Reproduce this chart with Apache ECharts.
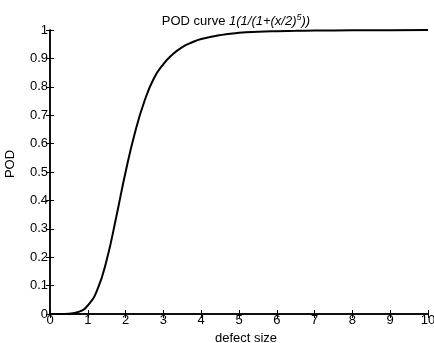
<!DOCTYPE html>
<html><head><meta charset="utf-8">
<script src="https://cdn.jsdelivr.net/npm/echarts@6/dist/echarts.min.js"></script>
<style>html,body{margin:0;padding:0;background:#fff}#c{width:434px;height:343px}</style>
</head><body><div id="c"></div>
<script>
const defectSize = [0,0.25,0.5,0.75,1,1.25,1.5,1.75,2,2.25,2.5,2.75,3,3.25,3.5,3.75,4,4.5,5,5.5,6,6.5,7,8,9,10];
const pod = [0,0,0.001,0.007,0.03,0.085,0.19,0.34,0.5,0.64,0.75,0.83,0.88,0.915,0.94,0.956,0.968,0.982,0.99,0.994,0.996,0.997,0.998,0.999,0.9995,1.0];
const xTicks = [0,1,2,3,4,5,6,7,8,9,10];
const yTicks = [0,0.1,0.2,0.3,0.4,0.5,0.6,0.7,0.8,0.9,1];
const ff = 'Liberation Sans';
const chart = echarts.init(document.getElementById('c'));
const tickStyle = {show:true, inside:true, length:4, lineStyle:{color:'#000', width:1}};
chart.setOption({
  animation:false,
  backgroundColor:'#fff',
  title:{
    text:'{n|POD curve }{i|1(1/(1+(x/2)}{s|5}{i|))}',
    left:231, top:8, textAlign:'center',
    textStyle:{fontWeight:'normal',rich:{
      n:{fontFamily:ff,fontSize:13,color:'#000'},
      i:{fontFamily:ff,fontSize:13,fontStyle:'italic',color:'#000'},
      s:{fontFamily:ff,fontSize:9,fontStyle:'italic',color:'#000',verticalAlign:'top',padding:[0,0,7,0]}
    }}
  },
  grid:{left:50, right:6, top:30, bottom:29, containLabel:false, outerBoundsMode:'none'},
  xAxis:[{
    type:'value', min:0, max:10, interval:1,
    name:'defect size', nameLocation:'middle', nameGap:14,
    nameTextStyle:{fontFamily:ff,fontSize:13,color:'#000',padding:[0,0,0,14]},
    axisLine:{lineStyle:{color:'#000',width:1.5}},
    axisTick:tickStyle,
    axisLabel:{fontFamily:ff,fontSize:13,color:'#000',margin:0,formatter:v=>xTicks.includes(v)?String(v):''},
    splitLine:{show:false}
  },{
    type:'value', min:0, max:10, interval:1, position:'top',
    axisLine:{lineStyle:{color:'#000',width:1.5}},
    axisTick:tickStyle, axisLabel:{show:false}, splitLine:{show:false}
  }],
  yAxis:[{
    type:'value', min:0, max:1, interval:0.1,
    name:'POD', nameLocation:'middle', nameGap:33,
    nameTextStyle:{fontFamily:ff,fontSize:13,color:'#000',padding:[0,0,0,16]},
    axisLine:{show:true,lineStyle:{color:'#000',width:1.5}},
    axisTick:tickStyle,
    axisLabel:{fontFamily:ff,fontSize:13,color:'#000',margin:2,formatter:v=>{const t=yTicks.find(y=>Math.abs(y-v)<1e-6);return t===undefined?'':String(t);}},
    splitLine:{show:false}
  },{
    type:'value', min:0, max:1, interval:0.1, position:'right',
    axisLine:{show:true,lineStyle:{color:'#000',width:1.5}},
    axisTick:tickStyle, axisLabel:{show:false}, splitLine:{show:false}
  }],
  series:[{
    type:'line', data:defectSize.map((x,i)=>[x,pod[i]]),
    smooth:0.5, showSymbol:false, symbol:'none',
    lineStyle:{color:'#000', width:2}
  }]
});
</script></body></html>
